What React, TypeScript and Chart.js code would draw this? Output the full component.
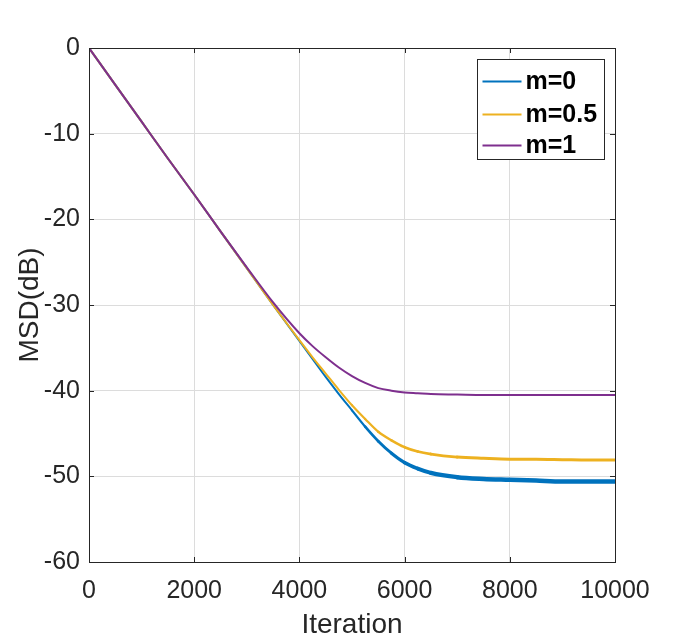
import { useEffect, useRef } from "react"
import { Chart, registerables } from "chart.js"

Chart.register(...registerables)

// iteration positions
const iterations = [
  0, 500, 1000, 1500, 2000, 2500, 3000, 3500, 4000, 4250, 4500, 4750, 5000, 5250, 5500, 5750, 6000, 6250,
  6500, 7000, 7500, 8000, 8500, 9000, 9500, 10000,
]

const msdM0 = [
  0, -4.3, -8.6, -12.9, -17.1, -21.4, -25.7, -30.0, -34.2, -36.3, -38.4, -40.4, -42.3, -44.2, -45.9, -47.3,
  -48.4, -49.1, -49.6, -50.1, -50.3, -50.4, -50.5, -50.6, -50.6, -50.6,
]

const msdM05 = [
  0, -4.3, -8.6, -12.9, -17.1, -21.4, -25.7, -30.0, -34.1, -36.1, -38.0, -39.9, -41.7, -43.3, -44.8, -45.8,
  -46.6, -47.1, -47.4, -47.75, -47.9, -48.0, -48.0, -48.05, -48.1, -48.1,
]

const msdM1 = [
  0, -4.3, -8.6, -12.9, -17.1, -21.4, -25.6, -29.7, -33.3, -34.8, -36.1, -37.3, -38.3, -39.1, -39.7, -40.0,
  -40.2, -40.3, -40.4, -40.45, -40.5, -40.5, -40.5, -40.5, -40.5, -40.5,
]

const seriesLabels = ["m=0", "m=0.5", "m=1"]
const seriesColors = ["#0072BD", "#EDB120", "#7E2F8E"]

const xTicks = [0, 2000, 4000, 6000, 8000, 10000]
const yTicks = [-60, -50, -40, -30, -20, -10, 0]

const FONT = "'Liberation Sans', Arial, Helvetica, sans-serif"
const AXIS_COLOR = "#262626"

// box around the axes, inner tick marks and the legend
const matlabAxesPlugin = {
  id: "matlabAxes",
  afterDatasetsDraw(chart: Chart) {
    const { ctx, chartArea } = chart
    const { left, right, top, bottom } = chartArea
    const xs = chart.scales.x
    const ys = chart.scales.y
    ctx.save()
    ctx.strokeStyle = AXIS_COLOR
    ctx.lineWidth = 1
    ctx.beginPath()
    xTicks.forEach((t) => {
      const px = Math.round(xs.getPixelForValue(t)) + 0.5
      ctx.moveTo(px, bottom)
      ctx.lineTo(px, bottom - 5)
      ctx.moveTo(px, top)
      ctx.lineTo(px, top + 5)
    })
    yTicks.forEach((t) => {
      const py = Math.round(ys.getPixelForValue(t)) + 0.5
      ctx.moveTo(left, py)
      ctx.lineTo(left + 5, py)
      ctx.moveTo(right, py)
      ctx.lineTo(right - 5, py)
    })
    ctx.stroke()
    ctx.strokeRect(Math.round(left) + 0.5, Math.round(top) + 0.5, Math.round(right - left), Math.round(bottom - top))

    // legend
    const boxW = 127
    const boxH = 100
    const bx = Math.round(right - 11 - boxW) + 0.5
    const by = Math.round(top + 11) + 0.5
    ctx.fillStyle = "#ffffff"
    ctx.fillRect(bx, by, boxW, boxH)
    ctx.strokeStyle = AXIS_COLOR
    ctx.strokeRect(bx, by, boxW, boxH)
    ctx.font = `bold 25px ${FONT}`
    ctx.textBaseline = "middle"
    ctx.textAlign = "left"
    const rowY = [22, 55, 86]
    seriesLabels.forEach((label, i) => {
      const y = by + rowY[i]
      ctx.strokeStyle = seriesColors[i]
      ctx.lineWidth = 2
      ctx.beginPath()
      ctx.moveTo(bx + 5, y)
      ctx.lineTo(bx + 44, y)
      ctx.stroke()
      ctx.fillStyle = "#000000"
      ctx.fillText(label, bx + 48, y + 1)
    })
    ctx.restore()
  },
}

const toPoints = (ys: number[]) => iterations.map((x, i) => ({ x, y: ys[i] }))

// lines get thicker where the noisy steady state begins
const widthFrom = (start: number, maxW: number) => (c: any) => {
  const x = c.p0.parsed.x
  if (x < start) return 2
  return Math.min(maxW, 2 + ((x - start) / 2000) * (maxW - 2))
}

export default function App() {
  const chartRef = useRef<HTMLCanvasElement>(null)
  const chartInstance = useRef<Chart | null>(null)

  useEffect(() => {
    if (!chartRef.current) return
    if (chartInstance.current) {
      chartInstance.current.destroy()
    }
    const ctx = chartRef.current.getContext("2d")
    if (!ctx) return

    chartInstance.current = new Chart(ctx, {
      type: "line",
      data: {
        datasets: [
          {
            label: seriesLabels[0],
            data: toPoints(msdM0),
            borderColor: seriesColors[0],
            borderWidth: 2,
            order: 2,
            segment: { borderWidth: widthFrom(4750, 4.5) },
          },
          {
            label: seriesLabels[1],
            data: toPoints(msdM05),
            borderColor: seriesColors[1],
            borderWidth: 2,
            order: 1,
            segment: { borderWidth: widthFrom(4750, 3) },
          },
          {
            label: seriesLabels[2],
            data: toPoints(msdM1),
            borderColor: seriesColors[2],
            borderWidth: 2,
            order: 0,
          },
        ],
      },
      options: {
        animation: false,
        responsive: true,
        maintainAspectRatio: false,
        layout: { padding: { top: 48, right: 66, left: 0, bottom: 0 } },
        elements: {
          point: { radius: 0 },
          line: { cubicInterpolationMode: "monotone", borderCapStyle: "round", borderJoinStyle: "round" },
        },
        plugins: {
          legend: { display: false },
          tooltip: { enabled: false },
        },
        scales: {
          x: {
            type: "linear",
            min: 0,
            max: 10000,
            afterFit: (scale: any) => {
              scale.height = 80
            },
            afterBuildTicks: (scale: any) => {
              scale.ticks = xTicks.map((v) => ({ value: v }))
            },
            ticks: {
              padding: 14,
              color: AXIS_COLOR,
              font: { family: FONT, size: 25 },
              maxRotation: 0,
              callback: (v: any) => String(v),
            },
            grid: { color: "#dcdcdc", drawTicks: false },
            border: { display: false },
            title: {
              display: true,
              text: "Iteration",
              color: AXIS_COLOR,
              font: { family: FONT, size: 28 },
              padding: { top: 0, bottom: 0 },
            },
          },
          y: {
            type: "linear",
            min: -60,
            max: 0,
            afterFit: (scale: any) => {
              scale.width = 89
            },
            afterBuildTicks: (scale: any) => {
              scale.ticks = yTicks.map((v) => ({ value: v }))
            },
            ticks: {
              padding: 9,
              color: AXIS_COLOR,
              font: { family: FONT, size: 25 },
              callback: (v: any) => String(v),
            },
            grid: { color: "#dcdcdc", drawTicks: false },
            border: { display: false },
            title: {
              display: true,
              text: "MSD(dB)",
              color: AXIS_COLOR,
              font: { family: FONT, size: 28 },
              padding: { top: 13, bottom: 0 },
            },
          },
        },
      },
      plugins: [matlabAxesPlugin],
    })

    return () => {
      if (chartInstance.current) {
        chartInstance.current.destroy()
        chartInstance.current = null
      }
    }
  }, [])

  return (
    <div style={{ position: "fixed", left: 0, top: 0, width: 681, height: 642, background: "#ffffff" }}>
      <canvas ref={chartRef} />
    </div>
  )
}
